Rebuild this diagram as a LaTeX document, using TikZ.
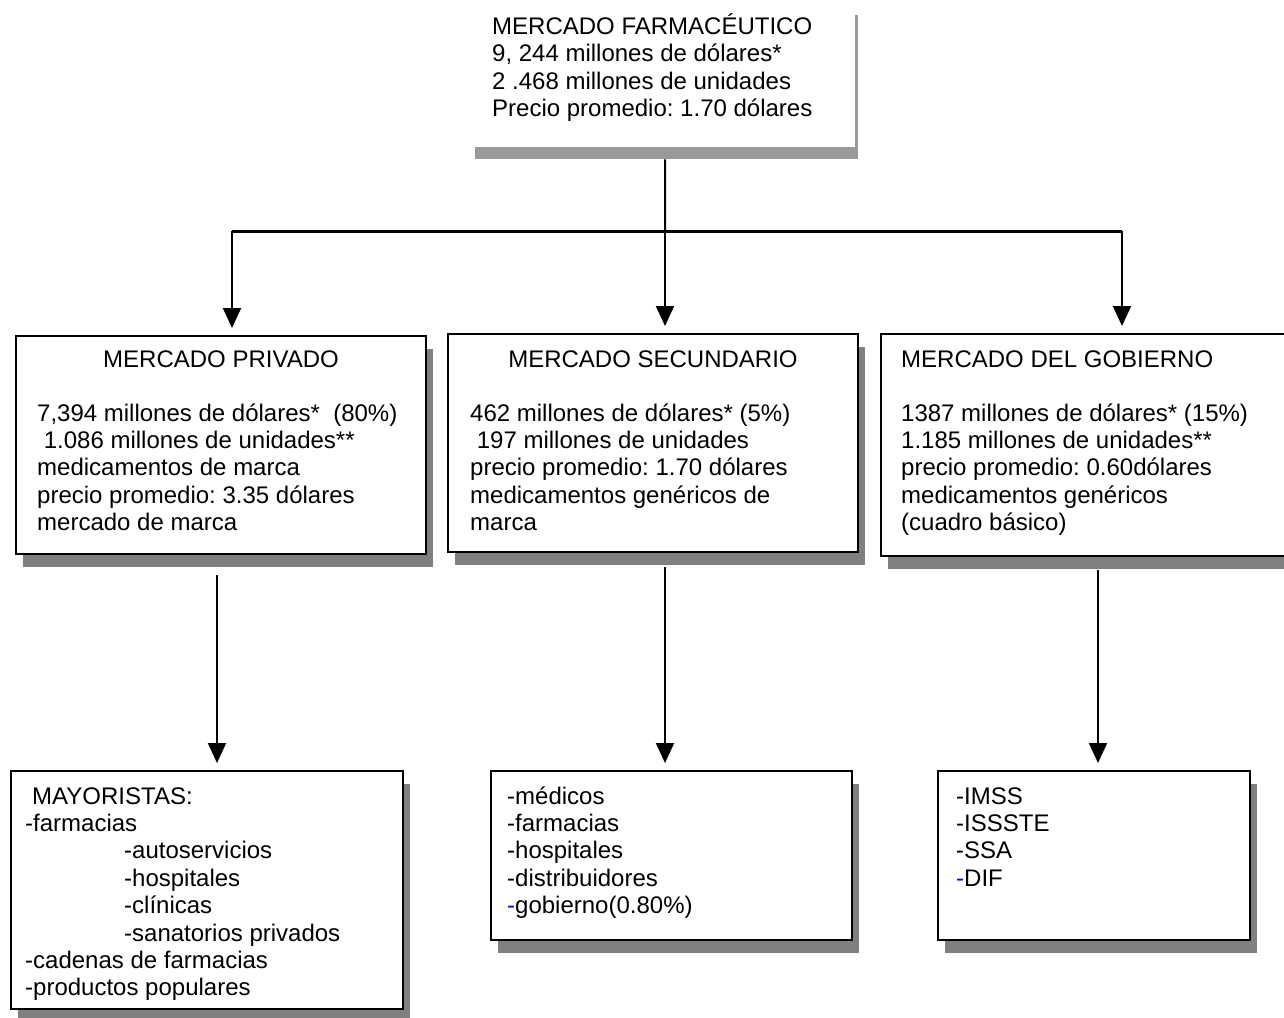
\documentclass[tikz,border=0pt]{standalone}
\usepackage{fontspec}
\setmainfont{Liberation Sans}
\usetikzlibrary{arrows.meta,shadows}
\newcommand{\rows}[1]{\begin{tabular}[t]{@{}l@{}}#1\end{tabular}}
\frenchspacing
\begin{document}
\frenchspacing
\begin{tikzpicture}[x=1pt,y=-1pt,
  font=\fontsize{24}{27.4}\selectfont\frenchspacing,
  box/.style={draw=black, line width=2pt, fill=white, anchor=north west, inner sep=0pt,
    drop shadow={shadow xshift=7pt, shadow yshift=-13pt, fill=black!50, opacity=1}},
  txt/.style={anchor=base west, inner sep=0pt},
  hdr/.style={anchor=base, inner sep=0pt},
  link/.style={line width=2pt},
  arr/.style={line width=2pt, -{Triangle[length=20pt,width=18pt]}, shorten >=7pt}]
\useasboundingbox (0,0) rectangle (1284,1017);
\clip (0,0) rectangle (1284,1017);
\fill[white] (0,0) rectangle (1284,1017);

% top box
\node[anchor=north west, minimum width=380pt, minimum height=144pt, inner sep=0pt] (top) at (475,15) {};
\fill[black!40] (475,147) rectangle (858,159);
\draw[black!40, line width=3pt] (856.5,15) -- (856.5,147);
\node[txt] (t0) at (492,34.5) {\rows{MERCADO FARMACÉUTICO\\9, 244 millones de dólares*\\2 .468 millones de unidades\\Precio promedio: 1.70 dólares}};

% middle boxes
\node[box, minimum width=410pt, minimum height=218pt] (priv) at (15,335) {};
\node[box, minimum width=410pt, minimum height=218pt] (sec) at (447,333) {};
\node[box, minimum width=410pt, minimum height=222pt] (gob) at (880,333) {};

\node[hdr] (h1) at (221,367) {MERCADO PRIVADO};
\node[txt] (b1) at (37,421) {\rows{7,394 millones de dólares*\ \ (80\%)\\\ 1.086 millones de unidades**\\medicamentos de marca\\precio promedio: 3.35 dólares\\mercado de marca}};
\node[hdr] (h2) at (653,367) {MERCADO SECUNDARIO};
\node[txt] (b2) at (470,421) {\rows{462 millones de dólares* (5\%)\\\ 197 millones de unidades\\precio promedio: 1.70 dólares\\medicamentos genéricos de\\marca}};
\node[txt] (h3) at (901,367) {MERCADO DEL GOBIERNO};
\node[txt] (b3) at (901,421) {\rows{1387 millones de dólares* (15\%)\\1.185 millones de unidades**\\precio promedio: 0.60dólares\\medicamentos genéricos\\(cuadro básico)}};

% bottom boxes
\node[box, minimum width=392pt, minimum height=238pt] (may) at (10,770) {};
\node[box, minimum width=361pt, minimum height=169pt] (med) at (490,770) {};
\node[box, minimum width=312pt, minimum height=169pt] (imss) at (937,770) {};

\node[txt] (b4) at (25,804) {\rows{\hspace*{7pt}MAYORISTAS:\\-farmacias\\\hspace*{99pt}-autoservicios\\\hspace*{99pt}-hospitales\\\hspace*{99pt}-clínicas\\\hspace*{99pt}-sanatorios privados\\-cadenas de farmacias\\-productos populares}};
\node[txt] (b5) at (507,804) {\rows{-médicos\\-farmacias\\-hospitales\\-distribuidores\\\textcolor{blue}{-}gobierno(0.80\%)}};
\node[txt] (b6) at (956,804) {\rows{-IMSS\\-ISSSTE\\-SSA\\\textcolor{blue}{-}DIF}};

% connectors
\coordinate (jl) at (232,231);
\coordinate (jm) at (665,231);
\coordinate (jr) at (1122,231);
\draw[link] (top.south) -- (jm);
\draw[line width=3pt] (jl) -- (jr);
\draw[arr] (jl) -- (jl |- priv.north);
\draw[arr] (jm) -- (jm |- sec.north);
\draw[arr] (jr) -- (jr |- gob.north);

\coordinate (pl) at (217,575);
\coordinate (sl) at (665,567);
\coordinate (gl) at (1098,570);
\draw[arr] (pl) -- (pl |- may.north);
\draw[arr] (sl) -- (sl |- med.north);
\draw[arr] (gl) -- (gl |- imss.north);
\end{tikzpicture}
\end{document}
